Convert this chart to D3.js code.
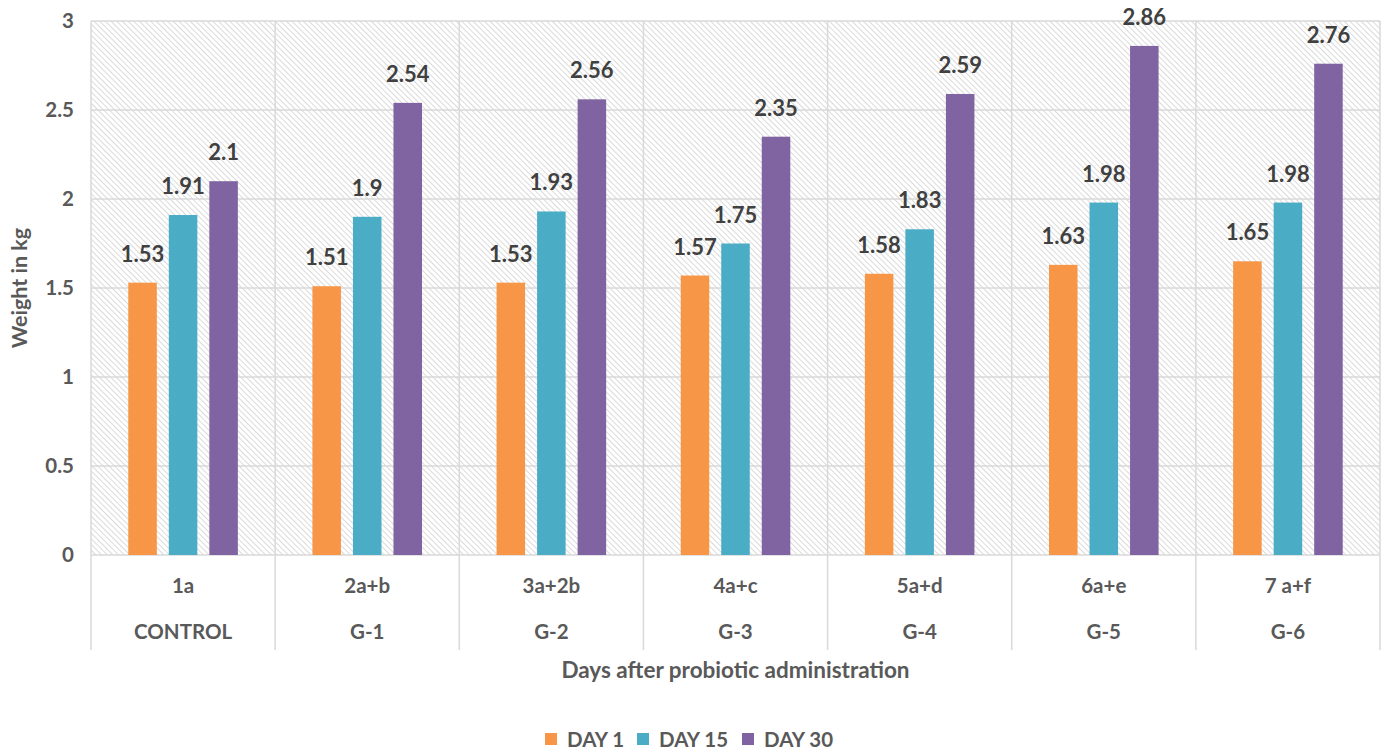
<!DOCTYPE html>
<html>
<head>
<meta charset="utf-8">
<script src="https://cdn.jsdelivr.net/npm/d3@7"></script>
<style>
  html, body { margin: 0; padding: 0; background: #fff; }
  svg { display: block; font-family: Lato, "Open Sans", sans-serif; font-weight: bold; }
</style>
</head>
<body>
<svg id="chart" width="1387" height="752"></svg>
<script>
// Broiler weight by treatment group across sampling days
const groups = ["1a", "2a+b", "3a+2b", "4a+c", "5a+d", "6a+e", "7 a+f"];
const groupNames = ["CONTROL", "G-1", "G-2", "G-3", "G-4", "G-5", "G-6"];
const seriesNames = ["DAY 1", "DAY 15", "DAY 30"];
const day1 = [1.53, 1.51, 1.53, 1.57, 1.58, 1.63, 1.65];
const day15 = [1.91, 1.90, 1.93, 1.75, 1.83, 1.98, 1.98];
const day30 = [2.10, 2.54, 2.56, 2.35, 2.59, 2.86, 2.76];
const yTicks = [0, 0.5, 1, 1.5, 2, 2.5, 3];
const colors = ["#F79646", "#4BACC6", "#8064A2"];

const series = [day1, day15, day30];
const textColor = "#595959";
const gridColor = "#d9d9d9";

const svg = d3.select("#chart");
const plot = { left: 91, right: 1380, top: 21, bottom: 555 };

const x0 = d3.scaleBand().domain(groups).range([plot.left, plot.right]).padding(0);
const x1 = d3.scaleBand().domain(seriesNames).range([0, x0.bandwidth()])
  .paddingInner(0.296).paddingOuter(0.92);
const y = d3.scaleLinear().domain([0, 3]).range([plot.bottom, plot.top]);

// diagonal hatch fill for the plot background
const defs = svg.append("defs");
const pat = defs.append("pattern")
  .attr("id", "hatch")
  .attr("patternUnits", "userSpaceOnUse")
  .attr("width", 4).attr("height", 4)
  .attr("patternTransform", "rotate(45)");
pat.append("rect").attr("width", 4).attr("height", 4).attr("fill", "#fff");
pat.append("line")
  .attr("x1", 0).attr("y1", 0).attr("x2", 4).attr("y2", 0)
  .attr("stroke", "#d6d6d6").attr("stroke-width", 1.8);

svg.append("rect")
  .attr("x", plot.left).attr("y", plot.top)
  .attr("width", plot.right - plot.left).attr("height", plot.bottom - plot.top)
  .attr("fill", "url(#hatch)");

// horizontal gridlines
svg.append("g").selectAll("line").data(yTicks).join("line")
  .attr("x1", plot.left).attr("x2", plot.right)
  .attr("y1", d => y(d)).attr("y2", d => y(d))
  .attr("stroke", gridColor).attr("stroke-width", 1.5);

// vertical category separators, running down through the label rows
const bounds = groups.map(g => x0(g)).concat([plot.right]);
svg.append("g").selectAll("line").data(bounds).join("line")
  .attr("x1", d => d).attr("x2", d => d)
  .attr("y1", plot.top).attr("y2", 650)
  .attr("stroke", gridColor).attr("stroke-width", 1.5);

// y axis tick labels
const yAxis = d3.axisLeft(y).tickValues(yTicks).tickSize(0).tickPadding(17)
  .tickFormat(d3.format("~g"));
const gy = svg.append("g").attr("transform", `translate(${plot.left},0)`).call(yAxis);
gy.select(".domain").remove();
gy.selectAll("text")
  .attr("fill", textColor).attr("font-size", 20.5)
  .attr("font-family", "Lato, 'Open Sans', sans-serif").attr("font-weight", "bold");

// bars
const gGroups = svg.append("g").selectAll("g").data(groups).join("g")
  .attr("transform", g => `translate(${x0(g)},0)`);

gGroups.selectAll("rect")
  .data((g, i) => series.map((s, k) => ({ key: seriesNames[k], value: s[i], k })))
  .join("rect")
  .attr("x", d => x1(d.key))
  .attr("width", x1.bandwidth())
  .attr("y", d => y(d.value))
  .attr("height", d => y(0) - y(d.value))
  .attr("fill", d => colors[d.k]);

// value labels above bars
gGroups.selectAll("text.val")
  .data((g, i) => series.map((s, k) => ({ key: seriesNames[k], value: s[i], k })))
  .join("text")
  .attr("class", "val")
  .attr("x", d => x1(d.key) + x1.bandwidth() / 2)
  .attr("y", d => y(d.value) - 21)
  .attr("text-anchor", "middle")
  .attr("fill", "#404040").attr("font-size", 22)
  .text(d => d3.format("~g")(d.value));

// category labels: code row and group-name row
const gx = svg.append("g").selectAll("g").data(groups).join("g")
  .attr("transform", g => `translate(${x0(g) + x0.bandwidth() / 2},0)`);
gx.append("text").attr("y", 593).attr("text-anchor", "middle")
  .attr("fill", textColor).attr("font-size", 20.5).text(g => g);
gx.append("text").attr("y", 639).attr("text-anchor", "middle")
  .attr("fill", textColor).attr("font-size", 20.5).text((g, i) => groupNames[i]);

// axis titles
svg.append("text")
  .attr("x", (plot.left + plot.right) / 2).attr("y", 678)
  .attr("text-anchor", "middle").attr("fill", textColor).attr("font-size", 22.5)
  .text("Days after probiotic administration");

svg.append("text")
  .attr("transform", `translate(27,${(plot.top + plot.bottom) / 2}) rotate(-90)`)
  .attr("text-anchor", "middle").attr("fill", textColor).attr("font-size", 21.5)
  .text("Weight in kg");

// legend
const legendItems = [
  { name: seriesNames[0], color: colors[0], x: 545 },
  { name: seriesNames[1], color: colors[1], x: 637 },
  { name: seriesNames[2], color: colors[2], x: 742 }
];
const lg = svg.append("g").selectAll("g").data(legendItems).join("g")
  .attr("transform", d => `translate(${d.x},733)`);
lg.append("rect").attr("width", 12).attr("height", 12).attr("fill", d => d.color);
lg.append("text").attr("x", 22).attr("y", 14).attr("fill", textColor)
  .attr("font-size", 20.5).text(d => d.name);
</script>
</body>
</html>
